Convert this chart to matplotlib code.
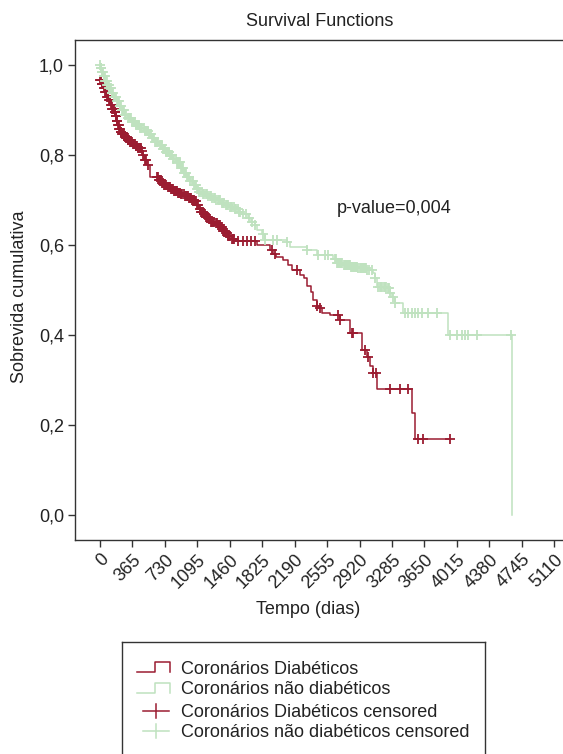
import numpy as np
import matplotlib
matplotlib.use("Agg")
import matplotlib.pyplot as plt

plt.rcParams['font.family'] = ['Liberation Sans', 'DejaVu Sans']

# Kaplan-Meier steps: time (days) and cumulative survival
diab_times = [0, 20, 40, 60, 80, 100, 120, 140, 160, 175, 185, 200, 215, 230, 250,
              280, 310, 340, 370, 400, 430, 460, 480, 500, 530, 560, 660, 690, 720,
              750, 790, 830, 870, 910, 950, 990, 1030, 1070, 1090, 1110, 1130, 1160,
              1190, 1220, 1250, 1290, 1320, 1350, 1380, 1410, 1440, 1480, 1515, 1765,
              1915, 1950, 1985, 2060, 2120, 2155, 2250, 2290, 2330, 2370, 2400, 2440,
              2456, 2494, 2590, 2700, 2813, 2944, 3000, 3040, 3075, 3120, 3510, 3545,
              3938]
diab_surv = [0.967, 0.958, 0.950, 0.940, 0.930, 0.922, 0.912, 0.903, 0.895, 0.887,
             0.875, 0.866, 0.858, 0.852, 0.846, 0.840, 0.834, 0.829, 0.824, 0.819,
             0.815, 0.810, 0.800, 0.790, 0.778, 0.752, 0.745, 0.738, 0.733, 0.728,
             0.724, 0.720, 0.716, 0.713, 0.709, 0.705, 0.701, 0.697, 0.690, 0.680,
             0.674, 0.668, 0.662, 0.657, 0.652, 0.649, 0.645, 0.640, 0.632, 0.626,
             0.620, 0.614, 0.610, 0.600, 0.590, 0.580, 0.574, 0.567, 0.555, 0.544,
             0.533, 0.526, 0.510, 0.495, 0.478, 0.465, 0.459, 0.448, 0.444, 0.433,
             0.405, 0.367, 0.350, 0.330, 0.315, 0.280, 0.226, 0.169, 0.169]
diab_censored = [5, 12, 20, 28, 36, 44, 52, 60, 68, 76, 84, 92, 100, 108, 116, 124,
                 132, 140, 148, 156, 164, 170, 176, 182, 188, 195, 202, 210, 218, 226,
                 234, 242, 250, 260, 270, 280, 290, 300, 310, 320, 330, 340, 350, 360,
                 370, 380, 390, 400, 410, 420, 430, 440, 450, 458, 470, 480, 506, 520,
                 544, 640, 652, 664, 676, 688, 700, 712, 724, 736, 748, 760, 772, 784,
                 796, 808, 820, 832, 844, 856, 868, 880, 892, 904, 916, 928, 940, 952,
                 964, 976, 988, 1000, 1012, 1024, 1036, 1048, 1060, 1072, 1084, 1096,
                 1108, 1120, 1132, 1144, 1156, 1168, 1180, 1192, 1204, 1216, 1228,
                 1240, 1252, 1264, 1276, 1288, 1300, 1312, 1324, 1336, 1348, 1360,
                 1372, 1384, 1396, 1408, 1420, 1432, 1444, 1456, 1468, 1480, 1492,
                 1504, 1556, 1605, 1650, 1695, 1744, 1931, 1969, 2212, 2440, 2470,
                 2681, 2700, 2830, 2850, 2981, 3019, 3075, 3100, 3263, 3375, 3469,
                 3581, 3631, 3938]

nondiab_times = [0, 10, 20, 40, 60, 80, 100, 130, 160, 190, 220, 250, 280, 310, 350,
                 400, 450, 500, 545, 580, 620, 660, 700, 740, 780, 820, 860, 900, 940,
                 975, 1010, 1050, 1080, 1110, 1160, 1210, 1260, 1310, 1360, 1410, 1460,
                 1510, 1560, 1610, 1660, 1700, 1740, 1770, 1820, 1856, 2100, 2138,
                 2325, 2438, 2625, 2663, 2740, 2813, 2900, 3000, 3075, 3094, 3113,
                 3225, 3260, 3281, 3319, 3413, 3919, 4631]
nondiab_surv = [1.0, 0.993, 0.985, 0.975, 0.965, 0.955, 0.948, 0.938, 0.928, 0.919,
                0.909, 0.899, 0.890, 0.882, 0.874, 0.866, 0.860, 0.853, 0.847, 0.838,
                0.830, 0.822, 0.814, 0.806, 0.799, 0.792, 0.784, 0.772, 0.761, 0.752,
                0.743, 0.733, 0.725, 0.718, 0.713, 0.708, 0.704, 0.700, 0.694, 0.689,
                0.684, 0.680, 0.674, 0.668, 0.660, 0.652, 0.644, 0.633, 0.625, 0.611,
                0.607, 0.596, 0.589, 0.578, 0.570, 0.559, 0.555, 0.552, 0.548, 0.544,
                0.537, 0.526, 0.507, 0.504, 0.493, 0.485, 0.470, 0.448, 0.400, 0.0]
nondiab_censored = [4, 10, 16, 22, 28, 34, 40, 47, 54, 61, 68, 75, 82, 90, 98, 106,
                    114, 122, 130, 140, 150, 160, 170, 180, 190, 200, 210, 220, 230,
                    240, 250, 262, 274, 286, 298, 310, 322, 334, 346, 358, 370, 382,
                    394, 406, 418, 430, 442, 454, 466, 478, 490, 502, 514, 526, 538,
                    550, 562, 574, 586, 598, 610, 622, 634, 646, 658, 670, 682, 694,
                    706, 718, 730, 742, 754, 766, 778, 790, 802, 814, 826, 838, 850,
                    862, 874, 886, 898, 910, 922, 934, 946, 958, 970, 982, 994, 1006,
                    1018, 1030, 1042, 1054, 1066, 1078, 1090, 1102, 1115, 1130, 1145,
                    1160, 1175, 1190, 1205, 1220, 1235, 1250, 1265, 1280, 1295, 1310,
                    1325, 1340, 1355, 1370, 1385, 1400, 1415, 1430, 1445, 1460, 1475,
                    1490, 1505, 1520, 1535, 1550, 1565, 1580, 1613, 1640, 1680, 1706,
                    1740, 1838, 1856, 1950, 1988, 2100, 2325, 2456, 2531, 2569, 2644,
                    2656, 2668, 2680, 2692, 2704, 2716, 2728, 2740, 2752, 2764, 2776,
                    2788, 2800, 2812, 2824, 2836, 2848, 2860, 2872, 2884, 2896, 2908,
                    2920, 2932, 2944, 2956, 2968, 2980, 2992, 3005, 3030, 3055, 3094,
                    3131, 3145, 3160, 3175, 3190, 3205, 3220, 3235, 3250, 3263, 3300,
                    3319, 3431, 3469, 3506, 3544, 3581, 3619, 3694, 3788, 3938, 4013,
                    4069, 4106, 4144, 4238, 4625]

x_ticks = [0, 365, 730, 1095, 1460, 1825, 2190, 2555, 2920, 3285, 3650, 4015,
           4380, 4745, 5110]
y_ticks = [0.0, 0.2, 0.4, 0.6, 0.8, 1.0]

legend_labels = ["Coronários Diabéticos", "Coronários não diabéticos",
                 "Coronários Diabéticos censored", "Coronários não diabéticos censored"]

RED = "#9b1c31"
GREEN = "#bfe2bf"
TEXT = "#222222"
FS = 13


def surv_at(times, surv, t):
    idx = np.searchsorted(times, t, side="right") - 1
    return np.asarray(surv)[idx]


fig = plt.figure(figsize=(5.63, 7.54), dpi=100)
ax = fig.add_axes([75 / 563, 1 - 540 / 754, 505 / 563, 500 / 754])

ax.step(diab_times, diab_surv, where="post", color=RED, lw=1.1)
ax.step(nondiab_times, nondiab_surv, where="post", color=GREEN, lw=1.1)
ax.plot(diab_censored, surv_at(diab_times, diab_surv, diab_censored), "+",
        color=RED, ms=6.5, mew=1.3)
ax.plot(nondiab_censored, surv_at(nondiab_times, nondiab_surv, nondiab_censored), "+",
        color=GREEN, ms=6.5, mew=1.3)

ax.set_xlim(-281, 5400)
ax.set_ylim(-0.0556, 1.0556)
ax.set_xticks(x_ticks)
ax.set_xticklabels([str(v) for v in x_ticks], rotation=45, ha="right",
                   rotation_mode="anchor", fontsize=FS, color=TEXT)
ax.set_yticks(y_ticks)
ax.set_yticklabels([f"{v:.1f}".replace(".", ",") for v in y_ticks],
                   fontsize=FS, color=TEXT)
ax.tick_params(direction="out", length=5, width=1, color="#333333", pad=3)
ax.spines["right"].set_visible(False)
for side in ["top", "left", "bottom"]:
    ax.spines[side].set_color("#333333")
    ax.spines[side].set_linewidth(1)

ax.text(2663, 0.682, "p-value=0,004", fontsize=FS, color=TEXT, va="center")

fig.text(320 / 563, 1 - 21 / 754, "Survival Functions", fontsize=FS, color=TEXT,
         ha="center", va="center")
fig.text(308 / 563, 1 - 610 / 754, "Tempo (dias)", fontsize=FS, color=TEXT,
         ha="center", va="center")
fig.text(20 / 563, 1 - 297 / 754, "Sobrevida cumulativa", fontsize=FS, color=TEXT,
         ha="center", va="center", rotation=90)

# legend box drawn by hand, it runs off the bottom of the picture
lg = fig.add_axes([121.7 / 563, 1 - (641.7 + 152) / 754, 363.3 / 563, 152 / 754])
lg.set_xlim(0, 363.3)
lg.set_ylim(152, 0)
lg.set_xticks([])
lg.set_yticks([])
for s in lg.spines.values():
    s.set_color("#333333")
    s.set_linewidth(1)

for col, low, high in [(RED, 30.6, 20.6), (GREEN, 51.6, 41.6)]:
    lg.plot([15.6, 33.3, 33.3, 48.3, 48.3], [low, low, high, high, low], color=col, lw=1.1)
for col, yy in [(RED, 69), (GREEN, 89)]:
    lg.plot([21, 47.6], [yy, yy], color=col, lw=1.1)
    lg.plot([34.3, 34.3], [yy - 7, yy + 7], color=col, lw=1.1)

for label, base in zip(legend_labels, [32.3, 52.3, 75, 95.6]):
    lg.text(59.3, base, label, fontsize=FS, color=TEXT, va="baseline")

fig.savefig("out.png", dpi=100)
